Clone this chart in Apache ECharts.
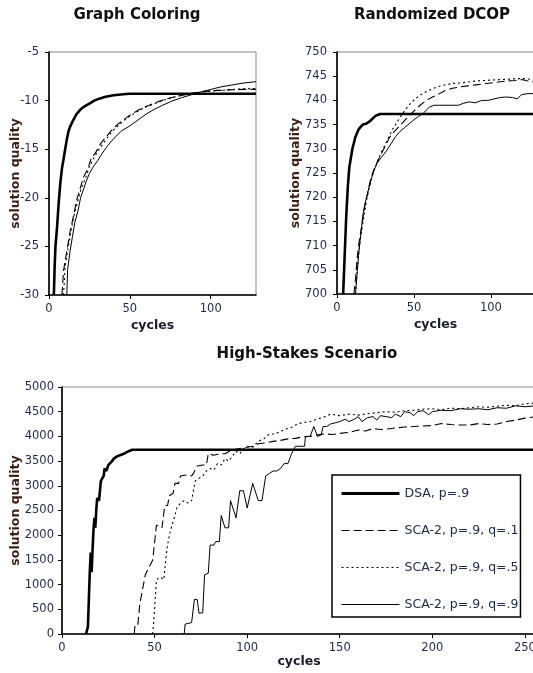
<!DOCTYPE html>
<html><head><meta charset="utf-8">
<script src="https://cdn.jsdelivr.net/npm/echarts@6/dist/echarts.min.js"></script>
<style>html,body{margin:0;padding:0;background:#fff}#c{width:533px;height:673px}</style>
</head><body><div id="c"></div>
<script>
const seriesNames = ['DSA, p=.9','SCA-2, p=.9, q=.1','SCA-2, p=.9, q=.5','SCA-2, p=.9, q=.9'];
const chartTitles = ['Graph Coloring','Randomized DCOP','High-Stakes Scenario'];
const xAxisName = 'cycles';
const yAxisName = 'solution quality';
const xTicksTop = [0,50,100];
const xTicksBottom = [0,50,100,150,200,250];

// Graph Coloring
const gcDSA = [[3,-30],[3.5,-27],[4,-25],[5,-23],[6,-20.5],[7,-18.5],[8,-17],[9,-16],[10,-15],[11,-14],[12,-13.2],[13,-12.7],[15,-12],[17,-11.4],[19,-11],[21,-10.7],[23,-10.5],[25,-10.3],[28,-10.0],[31,-9.8],[35,-9.6],[40,-9.45],[46,-9.35],[50,-9.3],[128,-9.3]];
const gcQ1 = [[8,-30],[9,-27.5],[11,-25.5],[13,-23.5],[15,-22],[17,-20.3],[19,-19.2],[21,-18],[24,-17],[26,-16],[29,-15.3],[32,-14.4],[35,-13.8],[38,-13.2],[42,-12.5],[46,-12],[50,-11.5],[55,-11],[60,-10.6],[66,-10.2],[72,-9.85],[78,-9.6],[84,-9.4],[90,-9.2],[96,-9.05],[104,-8.95],[112,-8.9],[120,-8.85],[128,-8.85]];
const gcQ5 = [[9,-30],[10,-27],[12,-25],[14,-23],[16,-21.5],[18,-20.2],[20,-19],[23,-17.8],[25,-16.8],[28,-15.8],[31,-15],[34,-14.3],[37,-13.6],[40,-13],[44,-12.4],[48,-11.8],[53,-11.3],[58,-10.8],[64,-10.4],[70,-10],[76,-9.7],[82,-9.45],[88,-9.25],[95,-9.1],[102,-9.0],[110,-8.9],[118,-8.8],[128,-8.75]];
const gcQ9 = [[11,-30],[11.5,-27.4],[13,-25.5],[14.5,-24],[16,-22.5],[18,-21.3],[19.5,-20],[21,-19.3],[23,-18.3],[25,-17.5],[27,-16.9],[30,-16.2],[33,-15.4],[36,-14.7],[40,-13.9],[45,-13.1],[50,-12.6],[55,-12],[60,-11.4],[65,-10.9],[70,-10.5],[76,-10.05],[82,-9.7],[88,-9.4],[94,-9.1],[100,-8.85],[106,-8.6],[113,-8.4],[120,-8.2],[128,-8.05]];

// Randomized DCOP
const rdDSA = [[4,700],[5,708],[6,716],[7,722],[8,726.2],[10,730],[12,732.5],[14,734],[16.7,735],[19,735.2],[21,735.6],[23,736.2],[25,736.8],[28,737.2],[128,737.2]];
const rdQ1 = [[11,700],[12,703],[13,707],[14,710],[16,714],[18,718],[20,721],[22,724],[25,726.5],[28,728.5],[31,730.3],[34,732.3],[37,733.5],[40,734.5],[43,735.5],[46,736.6],[50,737.8],[54,739],[58,740],[62,740.7],[66,741.3],[70,742],[75,742.5],[80,742.8],[85,743],[90,743.2],[95,743.4],[100,743.6],[105,743.8],[110,744],[115,744.1],[120,744.3],[124,744],[128,743.8]];
const rdQ5 = [[12,700],[13,704],[14,708],[15,711],[17,715],[19,719],[21,722],[24,725.5],[27,728],[30,730],[33,732],[36,734],[39,735.5],[42,737],[45,738.3],[48,739.5],[52,740.6],[56,741.5],[60,742.1],[65,742.8],[70,743.2],[75,743.5],[80,743.6],[85,743.8],[90,744],[95,744.1],[100,744.2],[106,744.3],[112,744.4],[118,744.5],[123,744.5],[128,744.2]];
const rdQ9 = [[12,700],[13,704],[14,708],[15,711],[16.7,716],[18,718.5],[20,721],[22,723.5],[24,725.5],[26,727],[29,728.3],[32,729.5],[35,731],[38,732.5],[41,733.6],[44,734.4],[47,735.2],[50,736],[53,736.7],[56,737.3],[58,738],[60,738.6],[63,739],[66,739],[70,739],[75,739],[79,739],[82,739.4],[86,739.7],[90,739.5],[94,740],[98,740],[102,740.3],[106,740.6],[110,740.7],[114,740.6],[117,740.3],[120,741.2],[124,741.4],[128,741.4]];

// High-Stakes Scenario
const hsDSA = [[13,0],[14,150],[14.5,700],[15,1250],[15.5,1650],[16,1250],[16.5,1700],[17,2100],[17.5,2350],[18,2150],[18.5,2500],[19,2750],[20,2700],[20.5,2900],[21,3100],[22,3100],[22.5,3200],[23,3350],[24,3300],[25,3420],[26,3400],[27,3500],[28,3550],[29,3520],[30,3600],[31,3580],[32,3630],[34,3660],[36,3700],[38,3730],[256,3730]];
const hsQ1 = [[39,0],[39.5,200],[41,200],[42,600],[44,1000],[45,1200],[47,1350],[49,1500],[51,2200],[53,2200],[54,2150],[55.5,2600],[57,2600],[58,2800],[60,2850],[61,3050],[63,3050],[64,3200],[67,3220],[70,3200],[71,3250],[73,3400],[76,3420],[78,3420],[79,3650],[82,3620],[85,3650],[88,3650],[92,3720],[95,3750],[100,3780],[103,3800],[106,3850],[110,3870],[114,3900],[118,3920],[122,3950],[126,3960],[130,3990],[134,4000],[138,4030],[142,4050],[146,4040],[150,4060],[155,4080],[160,4130],[164,4110],[168,4160],[172,4140],[176,4150],[180,4170],[185,4190],[190,4200],[195,4210],[200,4220],[205,4260],[210,4240],[215,4230],[220,4230],[225,4260],[230,4240],[235,4250],[240,4300],[245,4330],[250,4370],[256,4400]];
const hsQ5 = [[49,0],[50,500],[51,1100],[53,1150],[55,1100],[56,1500],[57,1800],[58,2000],[59,2150],[61,2400],[62,2550],[64,2650],[66,2700],[68,2650],[70,2700],[72,3100],[74,3150],[76,3200],[78,3300],[80,3350],[82,3320],[84,3450],[86,3420],[88,3550],[90,3500],[92,3600],[94,3700],[96,3650],[98,3750],[100,3800],[103,3780],[106,3900],[109,3950],[112,4050],[115,4050],[118,4100],[121,4150],[124,4180],[127,4250],[130,4280],[134,4300],[138,4350],[142,4400],[145,4450],[150,4420],[155,4450],[160,4430],[165,4460],[170,4480],[175,4500],[180,4490],[185,4520],[190,4530],[195,4550],[200,4560],[205,4540],[210,4570],[215,4560],[220,4580],[225,4600],[230,4590],[235,4610],[240,4630],[245,4620],[250,4660],[256,4680]];
const hsQ9 = [[66,0],[66.5,200],[70,230],[71.5,700],[73,700],[74,420],[76,430],[77,1200],[79,1230],[80,1800],[82,1800],[83,1870],[85,1870],[86,2400],[87,2400],[88,2150],[90,2150],[91,2700],[92,2700],[94,2350],[95,2350],[96,2900],[98,2900],[100,2550],[101,2580],[103,3050],[104,3050],[106,2700],[108,2700],[110,3200],[112,3250],[114,3300],[116,3300],[118,3350],[120,3450],[122,3450],[124,3650],[125,3650],[126,3800],[131,3800],[131.5,4000],[134,4000],[136,4200],[137,4200],[138,4000],[140,4030],[141,4200],[143,4200],[145,4250],[148,4280],[150,4300],[153,4350],[155,4300],[158,4350],[160,4400],[162,4300],[165,4380],[168,4400],[170,4330],[172,4420],[175,4400],[178,4380],[180,4450],[183,4400],[185,4500],[188,4480],[190,4420],[192,4500],[195,4520],[198,4440],[200,4500],[205,4530],[210,4520],[215,4560],[220,4550],[225,4560],[230,4540],[235,4580],[240,4570],[245,4620],[250,4600],[256,4620]];

const FONT = 'DejaVu Sans';
const TICKCOL = '#1d2a44';
const NAMECOL = '#3b1e14';

const styles = [
  {width: 2.6, type: 'solid'},
  {width: 1.1, type: [8, 4]},
  {width: 1.1, type: [2, 3]},
  {width: 1.0, type: 'solid'}
];

function xAxis(idx, max, ticks, gap) {
  return {
    type: 'value', gridIndex: idx, min: 0, max: max,
    name: xAxisName, nameLocation: 'middle', nameGap: gap, nameMoveOverlap: false,
    nameTextStyle: {fontFamily: FONT, fontWeight: 'bold', fontSize: 12.5, color: '#1a1a2a'},
    axisLine: {show: true, lineStyle: {color: '#000', width: 1.6}},
    axisTick: {show: true, length: 4, lineStyle: {color: '#000', width: 1}, customValues: ticks},
    axisLabel: {fontFamily: FONT, fontSize: 11.5, color: TICKCOL, margin: 8, customValues: ticks},
    splitLine: {show: false}
  };
}
function yAxis(idx, min, max, interval, gap, margin) {
  return {
    type: 'value', gridIndex: idx, min: min, max: max, interval: interval,
    name: yAxisName, nameLocation: 'middle', nameGap: gap, nameMoveOverlap: false,
    nameTextStyle: {fontFamily: FONT, fontWeight: 'bold', fontSize: 12.5, color: NAMECOL},
    axisLine: {show: true, onZero: false, lineStyle: {color: '#000', width: 1.6}},
    axisTick: {show: true, length: 4, lineStyle: {color: '#000', width: 1}},
    axisLabel: {fontFamily: FONT, fontSize: 11.5, color: TICKCOL, margin: margin, formatter: v => String(v)},
    splitLine: {show: false}
  };
}

const groups = [
  [gcDSA, gcQ1, gcQ5, gcQ9],
  [rdDSA, rdQ1, rdQ5, rdQ9],
  [hsDSA, hsQ1, hsQ5, hsQ9]
];
const prefixes = ['gc ', 'rd ', ''];
const series = [];
groups.forEach((g, gi) => {
  g.forEach((d, si) => {
    series.push({
      type: 'line', name: prefixes[gi] + seriesNames[si],
      xAxisIndex: gi, yAxisIndex: gi, data: d,
      symbol: 'none', showSymbol: false, clip: true,
      lineStyle: {color: '#000', width: styles[si].width, type: styles[si].type},
      itemStyle: {color: '#000'},
      z: si === 0 ? 3 : 2
    });
  });
});

const legendData = seriesNames.map((n, i) => ({
  name: n,
  itemStyle: {opacity: 0},
  lineStyle: {color: '#000', width: i === 0 ? 3 : 1.2, type: styles[i].type, opacity: 1}
}));

const chart = echarts.init(document.getElementById('c'), null, {renderer: 'canvas'});
chart.setOption({
  animation: false,
  backgroundColor: '#fff',
  title: [
    {text: chartTitles[0], left: 137, top: 8, textAlign: 'center', padding: 0, textStyle: {fontFamily: FONT, fontWeight: 'bold', fontSize: 15, color: '#111'}},
    {text: chartTitles[1], left: 432, top: 8, textAlign: 'center', padding: 0, textStyle: {fontFamily: FONT, fontWeight: 'bold', fontSize: 15, color: '#111'}},
    {text: chartTitles[2], left: 307, top: 347, textAlign: 'center', padding: 0, textStyle: {fontFamily: FONT, fontWeight: 'bold', fontSize: 15, color: '#111'}}
  ],
  grid: [
    {left: 49, top: 52, width: 207, height: 243, show: true, borderColor: '#8a8a8a', borderWidth: 1, outerBoundsMode: 'none', containLabel: false},
    {left: 337, top: 52, width: 197, height: 242, show: true, borderColor: '#8a8a8a', borderWidth: 1, outerBoundsMode: 'none', containLabel: false},
    {left: 62, top: 387, width: 474, height: 247, show: true, borderColor: '#8a8a8a', borderWidth: 1, outerBoundsMode: 'none', containLabel: false}
  ],
  xAxis: [xAxis(0, 128, xTicksTop, 24), xAxis(1, 128, xTicksTop, 24), xAxis(2, 256, xTicksBottom, 21)],
  yAxis: [yAxis(0, -30, -5, 5, 27, 10), yAxis(1, 700, 750, 5, 35, 10), yAxis(2, 0, 5000, 500, 40, 8)],
  legend: {
    data: legendData, orient: 'vertical', left: 332, top: 475,
    padding: [12, 2, 6, 8], itemWidth: 58, itemHeight: 14, itemGap: 24,
    borderColor: '#000', borderWidth: 1.5, backgroundColor: '#fff',
    selectedMode: false,
    itemStyle: {opacity: 0},
    textStyle: {fontFamily: FONT, fontSize: 12.5, color: TICKCOL}
  },
  series: series
});
</script>
</body></html>
